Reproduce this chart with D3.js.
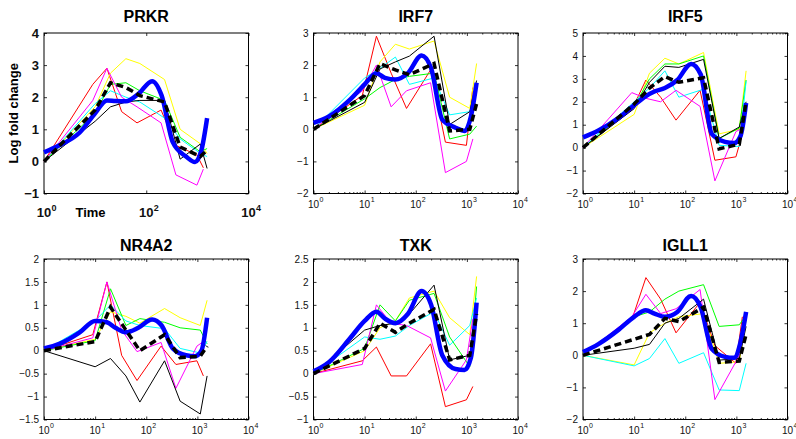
<!DOCTYPE html>
<html>
<head>
<meta charset="utf-8">
<script src="https://cdn.jsdelivr.net/npm/d3@7"></script>
<style>
  body { margin: 0; background: #fff; }
  svg { font-family: "Liberation Sans", Arial, Helvetica, sans-serif; }
</style>
</head>
<body>
<div class="chart"></div>
<script>
// Panels (one per gene) and their y ranges / tick labels
var genes = ["PRKR", "IRF7", "IRF5", "NR4A2", "TXK", "IGLL1"];
var yDomains = [[-1, 4], [-2, 3], [-2, 5], [-1.5, 2], [-1, 2.5], [-2, 3]];
var yTicks = [
  [-1, 0, 1, 2, 3, 4],
  [-2, -1, 0, 1, 2, 3],
  [-2, -1, 0, 1, 2, 3, 4, 5],
  [-1.5, -1, -0.5, 0, 0.5, 1, 1.5, 2],
  [-1, -0.5, 0, 0.5, 1, 1.5, 2, 2.5],
  [-2, -1, 0, 1, 2, 3]
];
var xTickLabels = [0, 1, 2, 3, 4];      // exponents of 10
var xTickLabelsFirst = [0, 2, 4];

// Sampling times
var timesA = [1, 9, 17, 33, 66, 195, 380, 980, 1310];          // red, magenta
var timesB = [1, 10, 20, 40, 75, 228, 460, 1140, 1550];        // yellow, green, cyan, black, mean
var timesFit = [1, 2, 5, 10, 17, 25, 40, 70, 130, 200, 330, 600, 900, 1200, 1550];

// Series values, one row per gene (same order as genes)
var red = [
  [0, 2.4, 2.9, 1.55, 1.2, 1.6, 0.5, 0.2, -0.2],
  [0, 1.05, 2.9, 1.75, 0.65, 1.85, -0.4, -0.5, 1.3],
  [0, 1.65, 2.95, 2.2, 1.2, 2.5, -0.55, -0.4, 0.6],
  [0, 0.35, 1.5, -0.1, -0.65, 0.1, -0.3, -0.22, -0.55],
  [0, 0.28, 0.58, -0.05, -0.05, 0.65, -0.72, -0.57, -0.28],
  [0, 1.1, 2.42, 1.75, 0.7, 1.65, 0.3, -0.25, 1.2]
];
var magenta = [
  [0, 1.9, 2.9, 2.0, 1.7, 1.2, -0.42, -0.74, -0.24],
  [0, 1.2, 2.0, 0.7, 1.2, 1.45, -1.35, -1.0, -0.3],
  [0, 2.4, 2.15, 2.0, 2.5, 1.8, -1.45, 0.7, 0.85],
  [0, 0.28, 1.5, 0.45, -0.02, 0.18, -0.82, 0.1, 0.2],
  [0, 0.2, 1.5, 1.1, 1.05, 0.78, -0.38, 0.3, 1.2],
  [0, 1.2, 1.9, 1.3, 1.45, 2.05, -1.38, -0.2, 0.2]
];
var yellow = [
  [0, 1.7, 2.75, 3.2, 3.05, 2.55, 1.0, 0.55, 0.25],
  [0, 0.75, 2.1, 2.65, 2.5, 2.75, 1.0, 0.65, 2.05],
  [0, 1.45, 3.25, 3.9, 3.65, 4.15, 0.6, 0.8, 3.35],
  [0, 0.25, 0.85, 0.75, 0.6, 0.92, 0.72, 0.55, 1.1],
  [0, 0.5, 1.0, 1.15, 1.65, 1.8, 1.22, 0.85, 2.12],
  [0, -0.3, 0.7, 1.0, 1.2, 1.3, -0.25, -0.2, 1.1]
];
var green = [
  [0, 1.5, 2.4, 2.45, 2.2, 1.9, 0.75, 0.3, 0.4],
  [0, 0.95, 1.3, 1.55, 1.65, 1.75, -0.3, -0.15, 0.1],
  [0, 1.8, 3.0, 3.65, 3.65, 4.0, 0.4, 0.85, 2.95],
  [0, 0.22, 1.35, 0.55, 0.7, 0.62, 0.5, 0.45, 0.15],
  [0, 0.55, 1.5, 1.15, 1.6, 1.75, 0.8, 0.15, 1.9],
  [0, 1.2, 1.35, 1.75, 2.0, 2.2, 0.9, 0.95, 1.25]
];
var cyan = [
  [0, 1.8, 2.2, 2.0, 1.85, 1.35, 0.7, 0.25, 0.15],
  [0, 1.6, 1.9, 2.25, 1.4, 1.6, 0.45, 0.55, 1.4],
  [0, 2.0, 2.6, 3.35, 2.2, 2.55, 0.1, 0.05, 2.9],
  [0, 0.65, 1.0, 0.65, 0.55, 0.48, 0.05, -0.05, 0.2],
  [0, 0.8, 0.75, 0.82, 1.05, 1.35, 0.62, 1.05, 1.65],
  [0, -0.33, -0.1, 0.52, -0.25, 0.08, -1.08, -1.1, -0.25]
];
var black = [
  [0, 1.25, 1.7, 1.85, 1.9, 1.9, 0.07, 0.54, -0.22],
  [0, 0.84, 1.88, 2.1, 2.28, 2.9, 0.15, 0.55, 1.52],
  [0, 1.7, 2.85, 3.55, 3.5, 3.85, 0.4, 0.9, 2.0],
  [0, -0.35, -0.17, -0.55, -1.12, -0.22, -1.1, -1.38, -0.55],
  [0, 0.95, 1.05, 1.1, 1.3, 1.93, 0.3, 0.4, 1.3],
  [0, 0.22, 0.34, 1.0, 1.15, 1.75, -0.15, -0.1, 0.9]
];
var mean = [
  [0, 1.6, 2.45, 2.3, 2.05, 1.85, 0.45, 0.15, 0.35],
  [0, 1.05, 2.05, 1.85, 1.7, 2.05, -0.05, 0.0, 0.8],
  [0, 1.9, 2.6, 3.1, 2.85, 3.05, -0.05, 0.15, 2.0],
  [0, 0.2, 0.95, 0.45, 0.0, 0.35, -0.15, -0.12, 0.1],
  [0, 0.55, 1.1, 0.9, 1.1, 1.4, 0.3, 0.4, 1.3],
  [0, 0.5, 0.65, 1.15, 1.05, 1.5, -0.22, -0.18, 0.65]
];
var fit = [
  [0.28, 0.5, 0.9, 1.5, 1.9, 1.88, 1.87, 2.1, 2.5, 2.05, 0.6, 0.15, -0.02, 0.35, 1.35],
  [0.2, 0.4, 0.9, 1.4, 1.75, 1.6, 1.55, 1.75, 2.3, 1.9, 0.3, 0.05, -0.05, 0.4, 1.45],
  [0.45, 0.75, 1.3, 1.85, 2.25, 2.45, 2.6, 2.95, 3.65, 3.2, 0.6, 0.25, 0.2, 0.5, 1.95],
  [0.05, 0.15, 0.4, 0.65, 0.62, 0.5, 0.4, 0.5, 0.68, 0.55, 0.05, -0.1, -0.12, 0.0, 0.72],
  [0.05, 0.25, 0.75, 1.15, 1.35, 1.2, 1.1, 1.3, 1.8, 1.5, 0.4, 0.1, 0.08, 0.35, 1.55],
  [0.1, 0.35, 0.8, 1.2, 1.4, 1.3, 1.2, 1.35, 1.85, 1.5, 0.2, -0.05, -0.08, 0.4, 1.35]
];

// Layout
var svgWidth = 796, svgHeight = 439;
var colLeft = [44, 313.5, 583];
var rowTop = [33, 259];
var titleBase = [21.5, 250.5];
var plotW = 204.5, plotH = 160.5;

var svg = d3.select(".chart")
  .append("svg")
  .attr("width", svgWidth)
  .attr("height", svgHeight);

// minor tick positions for the log axis
var minorTicks = [];
[1, 10, 100, 1000].forEach(function(d) {
  for (var k = 2; k <= 9; k++) minorTicks.push(d * k);
});

function fmt(v) {
  return String(v).replace("-", "\u2212");
}

genes.forEach(function(gene, i) {
  var col = i % 3, row = Math.floor(i / 3);
  var first = (i === 0);
  var g = svg.append("g")
    .attr("transform", "translate(" + colLeft[col] + "," + rowTop[row] + ")");

  var x = d3.scaleLog().domain([1, 1e4]).range([0, plotW]);
  var y = d3.scaleLinear().domain(yDomains[i]).range([plotH, 0]);

  // ticks on all four sides, pointing inwards
  var majorX = first ? [1, 100, 10000] : [1, 10, 100, 1000, 10000];
  var axes = [
    [d3.axisBottom(x).tickValues(majorX).tickSize(-3), "translate(0," + plotH + ")"],
    [d3.axisTop(x).tickValues(majorX).tickSize(-3), null],
    [d3.axisLeft(y).tickValues(yTicks[i]).tickSize(-3), null],
    [d3.axisRight(y).tickValues(yTicks[i]).tickSize(-3), "translate(" + plotW + ",0)"]
  ];
  if (!first) {
    axes.push([d3.axisBottom(x).tickValues(minorTicks).tickSize(-1.5), "translate(0," + plotH + ")"]);
    axes.push([d3.axisTop(x).tickValues(minorTicks).tickSize(-1.5), null]);
  }
  axes.forEach(function(a, k) {
    var ax = g.append("g").call(a[0].tickSizeOuter(0).tickFormat(k === 2 ? fmt : ""));
    if (a[1]) ax.attr("transform", a[1]);
    ax.select(".domain").remove();
    ax.selectAll("line").attr("stroke", "#000").attr("stroke-width", 0.8);
    if (k === 2) {
      ax.selectAll("text")
        .attr("x", -5)
        .attr("fill", "#111")
        .attr("font-family", "'Liberation Sans', Arial, sans-serif")
        .attr("font-size", first ? 13 : 10)
        .attr("font-weight", first ? "bold" : "normal");
    } else {
      ax.selectAll("text").remove();
    }
  });

  // box
  g.append("rect")
    .attr("width", plotW)
    .attr("height", plotH)
    .attr("fill", "none")
    .attr("stroke", "#000")
    .attr("stroke-width", 1);

  // x tick labels as 10^n
  var labs = first ? xTickLabelsFirst : xTickLabels;
  labs.forEach(function(e) {
    var px = x(Math.pow(10, e));
    g.append("text")
      .attr("x", px)
      .attr("y", plotH + (first ? 23.5 : 14.3))
      .attr("text-anchor", "middle")
      .attr("font-size", first ? 13 : 10)
      .attr("font-weight", first ? "bold" : "normal")
      .attr("fill", "#111")
      .text("10");
    g.append("text")
      .attr("x", px + (first ? 7.5 : 6))
      .attr("y", plotH + (first ? 17.5 : 8.5))
      .attr("font-size", first ? 9 : 7)
      .attr("font-weight", first ? "bold" : "normal")
      .attr("fill", "#111")
      .text(e);
  });

  // title
  g.append("text")
    .attr("x", plotW / 2)
    .attr("y", titleBase[row] - rowTop[row])
    .attr("text-anchor", "middle")
    .attr("font-size", 16)
    .attr("font-weight", "bold")
    .text(gene);

  var line = d3.line()
    .x(function(d) { return x(d[0]); })
    .y(function(d) { return y(d[1]); });

  var thin = [
    [timesA, red[i], "#ff0000"],
    [timesB, yellow[i], "#ffff00"],
    [timesB, green[i], "#00ff00"],
    [timesB, cyan[i], "#00ffff"],
    [timesA, magenta[i], "#ff00ff"],
    [timesB, black[i], "#000000"]
  ];
  thin.forEach(function(s) {
    g.append("path")
      .datum(d3.zip(s[0], s[1]))
      .attr("d", line)
      .attr("fill", "none")
      .attr("stroke", s[2])
      .attr("stroke-width", 1);
  });

  // smooth fit (thick blue)
  g.append("path")
    .datum(d3.zip(timesFit, fit[i]))
    .attr("d", line.curve(d3.curveMonotoneX))
    .attr("fill", "none")
    .attr("stroke", "#0000ff")
    .attr("stroke-width", 4.5)
    .attr("stroke-linejoin", "round");

  // mean (thick dashed black)
  g.append("path")
    .datum(d3.zip(timesB, mean[i]))
    .attr("d", line.curve(d3.curveLinear))
    .attr("fill", "none")
    .attr("stroke", "#000")
    .attr("stroke-width", 3.5)
    .attr("stroke-dasharray", "7,4");

  if (first) {
    g.append("text")
      .attr("transform", "translate(" + (-26.5) + "," + (plotH / 2) + ") rotate(-90)")
      .attr("text-anchor", "middle")
      .attr("font-size", 13)
      .attr("font-weight", "bold")
      .text("Log fold change");
    g.append("text")
      .attr("x", 46.5)
      .attr("y", plotH + 23.5)
      .attr("text-anchor", "middle")
      .attr("font-size", 13)
      .attr("font-weight", "bold")
      .text("Time");
  }
});
</script>
</body>
</html>
